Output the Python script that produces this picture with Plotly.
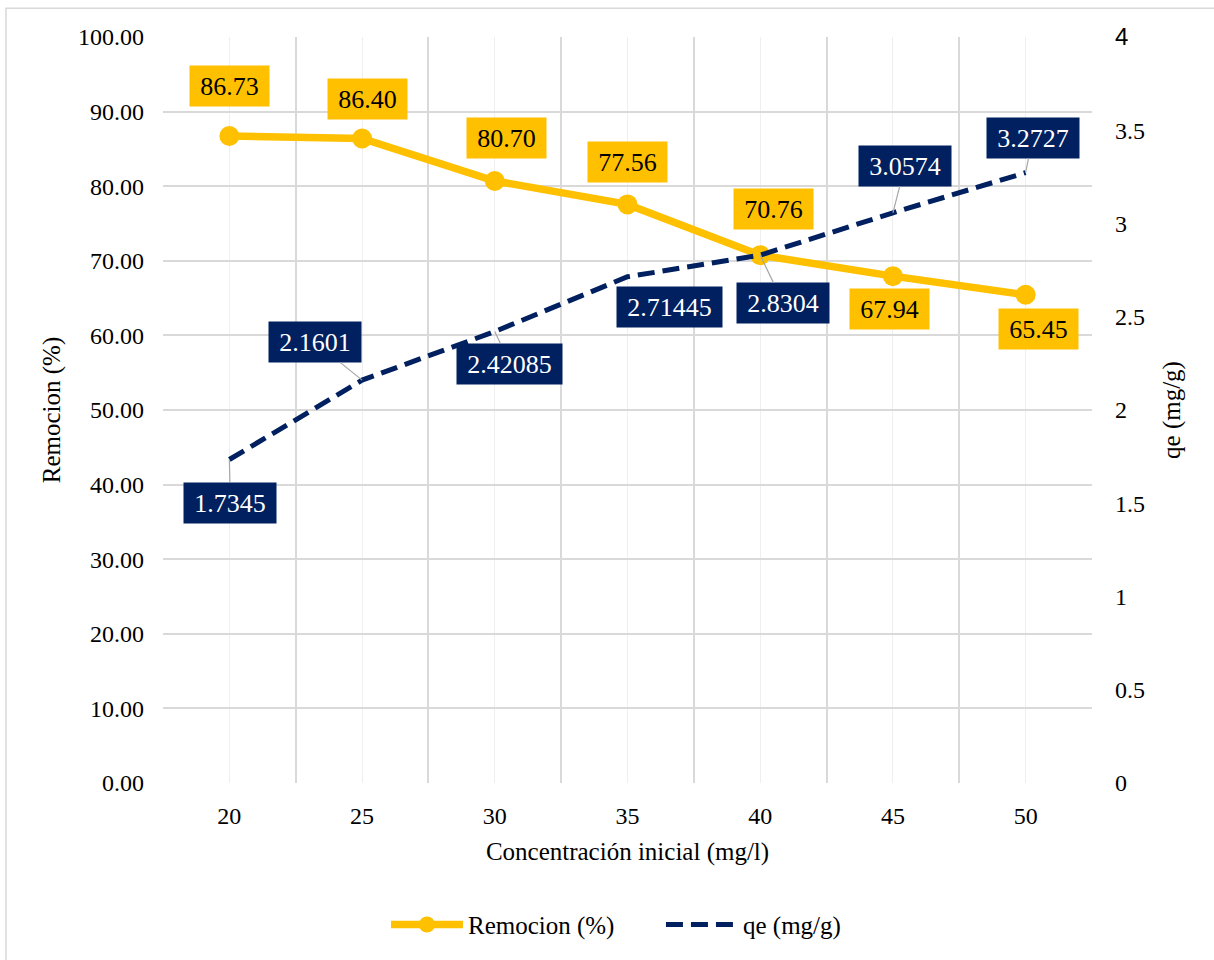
import plotly.graph_objects as go

# ---- data ----
concentracion = [20, 25, 30, 35, 40, 45, 50]
remocion = [86.73, 86.40, 80.70, 77.56, 70.76, 67.94, 65.45]
qe = [1.7345, 2.1601, 2.42085, 2.71445, 2.8304, 3.0574, 3.2727]
remocion_labels = ["86.73", "86.40", "80.70", "77.56", "70.76", "67.94", "65.45"]
qe_labels = ["1.7345", "2.1601", "2.42085", "2.71445", "2.8304", "3.0574", "3.2727"]
y2_ticks = [0, 0.5, 1, 1.5, 2, 2.5, 3, 3.5, 4]
y2_ticktext = ["0", "0.5", "1", "1.5", "2", "2.5", "3", "3.5",
               '<span style="font-family:Liberation Sans">4</span>']

# ---- label placement (pixel offsets: dx, dy from point, dy>0 = down) ----
rem_offsets = [(0, -50), (5, -39), (12, -43), (0, -42), (13, -46), (-3, 33), (13, 34)]
qe_offsets = [(1, 43), (-47, -38), (15, 32), (42, 30), (23, 48), (12, -47), (7, -35)]
qe_leader = [True, True, True, False, True, True, True]

YELLOW = "#FFC000"
NAVY = "#002060"
GRID = "#d9d9d9"
FONT = "Liberation Serif"

fig = go.Figure()
fig.add_trace(go.Scatter(
    x=concentracion, y=remocion, name="Remocion (%)", mode="lines+markers",
    line=dict(color=YELLOW, width=7.5), marker=dict(color=YELLOW, size=20),
    yaxis="y"))
fig.add_trace(go.Scatter(
    x=concentracion, y=qe, name="qe (mg/g)", mode="lines",
    line=dict(color=NAVY, width=5, dash="17px,8px"), yaxis="y2"))

def box_w(s):
    return 13 * len(s) + 12

annotations = []
for xv, yv, t, (dx, dy) in zip(concentracion, remocion, remocion_labels, rem_offsets):
    annotations.append(dict(
        x=xv, y=yv, xref="x", yref="y", text=t, showarrow=False,
        xshift=dx, yshift=-dy, bgcolor=YELLOW, width=box_w(t), height=38,
        font=dict(family=FONT, size=26, color="#000000")))
for xv, yv, t, (dx, dy), lead in zip(concentracion, qe, qe_labels, qe_offsets, qe_leader):
    if lead:
        annotations.append(dict(
            x=xv, y=yv, xref="x", yref="y2", text=t, showarrow=True,
            arrowhead=0, arrowwidth=1.2, arrowcolor="#a6a6a6", standoff=0,
            ax=dx, ay=dy, bgcolor=NAVY, width=box_w(t), height=38,
            font=dict(family=FONT, size=26, color="#ffffff")))
    else:
        annotations.append(dict(
            x=xv, y=yv, xref="x", yref="y2", text=t, showarrow=False,
            xshift=dx, yshift=-dy, bgcolor=NAVY, width=box_w(t), height=38,
            font=dict(family=FONT, size=26, color="#ffffff")))

tickfont = dict(family=FONT, size=24, color="#000000")
titlefont = dict(family=FONT, size=25, color="#000000")

fig.update_layout(
    width=1214, height=960,
    margin=dict(l=163, r=122, t=37, b=174),
    paper_bgcolor="white", plot_bgcolor="white",
    font=dict(family=FONT, size=24, color="#000000"),
    xaxis=dict(
        range=[17.5, 52.5], tickvals=concentracion, showgrid=True,
        gridcolor="#efefef", gridwidth=1.3, zeroline=False,
        showline=False, ticks="", ticklabelstandoff=16,
        tickfont=tickfont,
        minor=dict(tickvals=[17.5, 22.5, 27.5, 32.5, 37.5, 42.5, 47.5, 52.5],
                   showgrid=True, gridcolor=GRID, gridwidth=1.5, ticks=""),
        title=dict(text="Concentración inicial (mg/l)", standoff=14,
                   font=titlefont)),
    yaxis=dict(
        range=[0, 100], dtick=10, tickformat=".2f", showgrid=True,
        gridcolor=GRID, gridwidth=1.5, zeroline=False, ticks="",
        ticklabelstandoff=18, tickfont=tickfont,
        title=dict(text="Remocion (%)", standoff=10, font=titlefont)),
    yaxis2=dict(
        range=[0, 4], tickvals=y2_ticks, ticktext=y2_ticktext, overlaying="y",
        side="right", showgrid=False, zeroline=False, ticks="",
        ticklabelstandoff=22, tickfont=tickfont,
        title=dict(text="qe (mg/g)", standoff=18, font=titlefont)),
    legend=dict(orientation="h", x=0.240, xanchor="left", y=-0.19,
                yanchor="middle", font=titlefont, itemwidth=72,
                entrywidth=188, entrywidthmode="pixels",
                bgcolor="rgba(0,0,0,0)"),
    annotations=annotations,
    shapes=[dict(type="rect", xref="paper", yref="paper",
                 x0=-0.169, x1=1.3, y0=-0.4, y1=1.0387,
                 line=dict(color=GRID, width=1.5), layer="below")],
    showlegend=True,
)

fig.write_html("out.html")
